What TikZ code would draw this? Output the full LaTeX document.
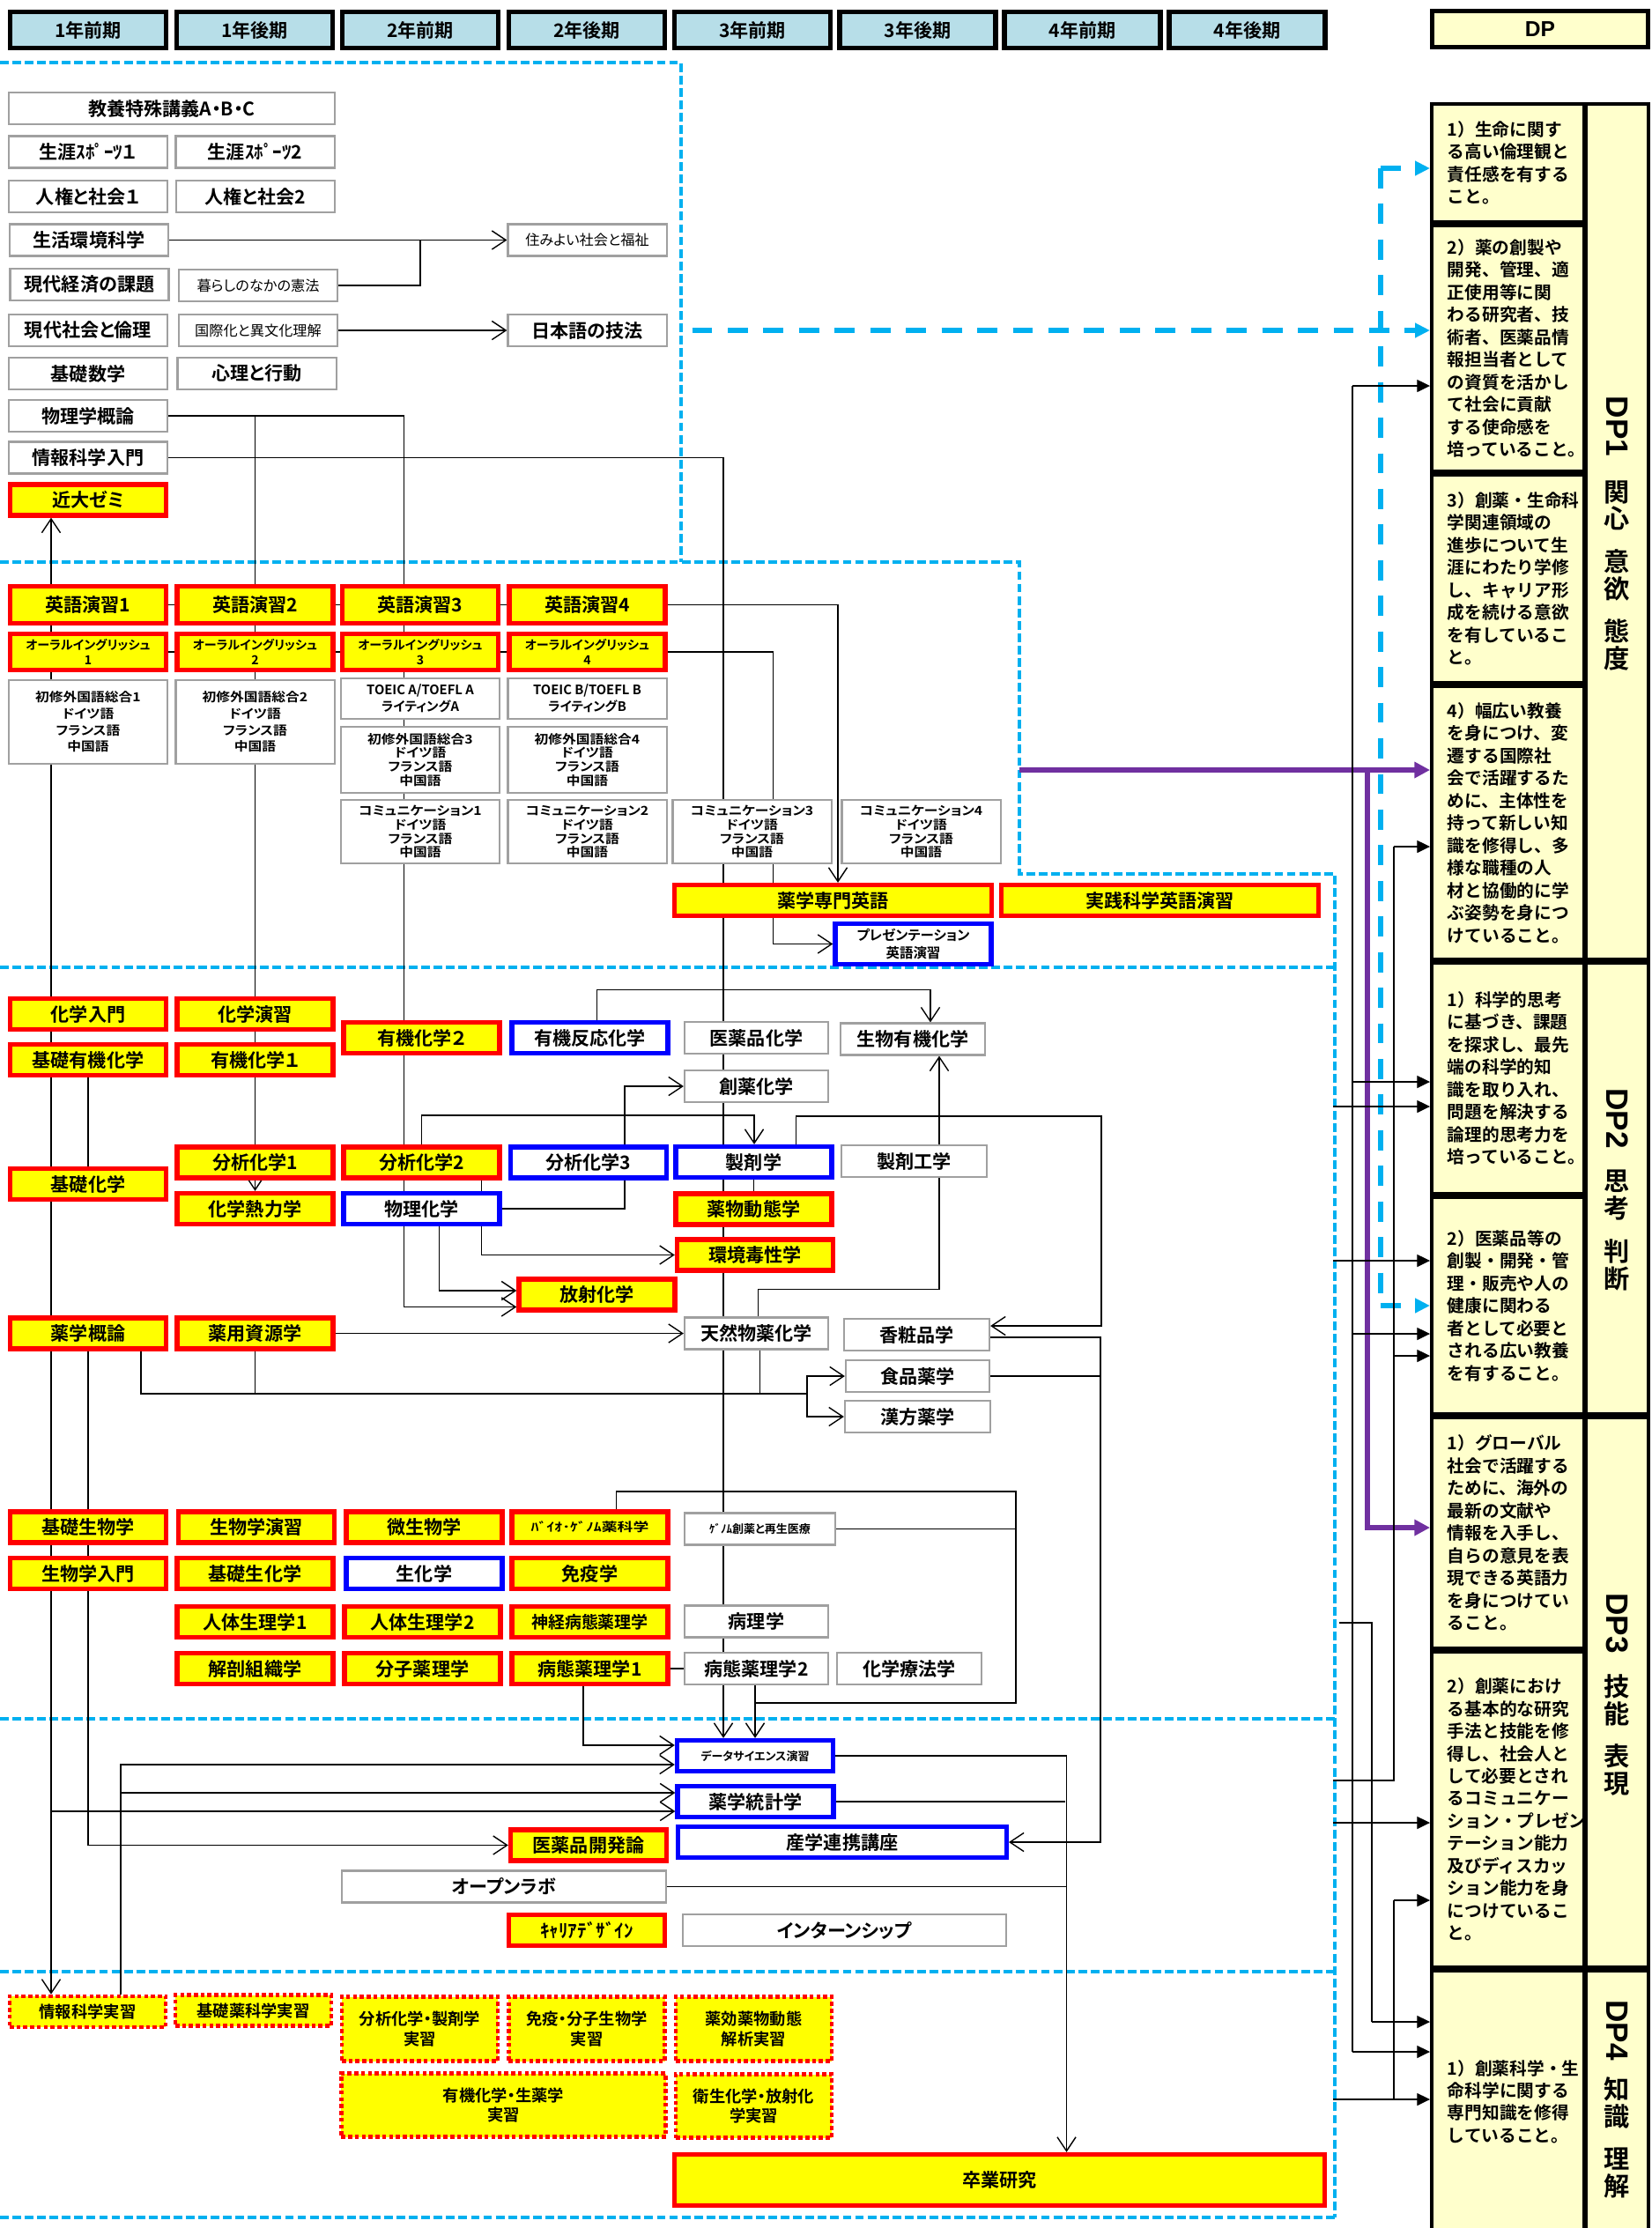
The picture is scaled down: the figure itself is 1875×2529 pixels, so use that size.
\documentclass[tikz,border=0pt]{standalone}
\usepackage{fontspec}
\setmainfont{Noto Sans CJK JP}[BoldFont={Noto Sans CJK JP Bold},RawFeature=+palt]
\newfontfamily\dpshotai{Noto Sans CJK JP}[BoldFont={Noto Sans CJK JP Bold}]
\newfontfamily\oubun{Liberation Sans}
\usepackage{xcolor}
\usepackage{tikz}
\usetikzlibrary{arrows.meta,calc,positioning}
\definecolor{KikanAo}{RGB}{183,222,232}
\definecolor{DPKiiro}{RGB}{255,255,204}
\definecolor{HissuKiiro}{RGB}{255,255,0}
\definecolor{WakuAka}{RGB}{255,0,0}
\definecolor{WakuAo}{RGB}{0,0,255}
\definecolor{WakuHai}{RGB}{160,160,160}
\definecolor{KugiriAo}{RGB}{0,176,240}
\definecolor{Murasaki}{RGB}{112,48,160}
\pgfdeclarelayer{haikei}
\pgfsetlayers{haikei,main}

\begin{document}
\begin{tikzpicture}[x=0.01cm,y=-0.01cm,line width=0.6pt,
  >={Straight Barb[length=4.5pt,width=6pt]},
  hako/.style={draw=WakuHai,line width=0.6pt,fill=white,inner sep=0pt,align=center,minimum width=1.80cm,minimum height=0.36cm,font=\bfseries\fontsize{6}{7}\selectfont},
  hissu/.style={hako,draw=WakuAka,fill=HissuKiiro,line width=1.5pt,minimum width=1.77cm,minimum height=0.35cm},
  aowaku/.style={hissu,draw=WakuAo,fill=white},
  jisshu/.style={hissu,line width=1.3pt,dash pattern=on 1.3pt off 0.9pt,font=\bfseries\fontsize{5.2}{6.4}\selectfont},
  kikan/.style={draw=black,line width=1.5pt,fill=KikanAo,inner sep=0pt,minimum width=1.77cm,minimum height=0.41cm,font=\bfseries\fontsize{6}{7}\selectfont},
  komoji/.style={font=\fontsize{4.6}{5.5}\selectfont},
  chisai/.style={font=\bfseries\fontsize{3.7}{4.5}\selectfont},
  hankaku/.style={font=\bfseries\fontsize{3.9}{4.6}\selectfont\addfontfeature{FakeStretch=1.3}},
  gogaku/.style={font=\bfseries\fontsize{4}{#1}\selectfont\addfontfeature{FakeStretch=1.12}},
  gogaku/.default=5.3,
  oral/.style={font=\bfseries\fontsize{4}{4.9}\selectfont},
  toeic/.style={font=\bfseries\fontsize{4.2}{5.3}\selectfont},
  dpwaku/.style={draw=black,line width=1.1pt,fill=DPKiiro,inner xsep=0.18cm,inner ysep=0pt,text width=1.37cm,align=left,font=\dpshotai\bfseries\fontsize{5.6}{7.25}\selectfont},
  dpmei/.style={draw=black,line width=1.1pt,fill=DPKiiro,minimum width=0.71cm,inner sep=0pt},
  dpmoji/.style={align=center,inner sep=0pt,font=\dpshotai\bfseries\fontsize{8.3}{8.8}\selectfont},
  dpban/.style={rotate=-90,inner sep=0pt,font=\oubun\bfseries\fontsize{10}{12}\selectfont},
  dpya/.style={-{Triangle[length=4.2pt,width=4pt]}},
  aosen/.style={draw=KugiriAo,line width=1.8pt,dash pattern=on 6.5pt off 5pt,-{Triangle[length=4.8pt,width=4.5pt]}},
  murasakisen/.style={draw=Murasaki,line width=1.6pt,-{Triangle[length=5pt,width=5pt]}},
  kugiri/.style={draw=KugiriAo,line width=1pt,dash pattern=on 2.8pt off 1.2pt}]
  \useasboundingbox (0,0) rectangle (1875,2529);

  \node[kikan] (k1) at (100,34) {1年前期};
  \node[kikan] (k2) at (289,34) {1年後期};
  \node[kikan] (k3) at (477,34) {2年前期};
  \node[kikan] (k4) at (666,34) {2年後期};
  \node[kikan] (k5) at (854,34) {3年前期};
  \node[kikan] (k6) at (1041.5,34) {3年後期};
  \node[kikan] (k7) at (1228.5,34) {4年前期};
  \node[kikan] (k8) at (1415.5,34) {4年後期};
  \node[kikan,fill=DPKiiro,minimum width=2.45cm,line width=1.4pt,font=\oubun\bfseries\fontsize{7}{8}\selectfont] (dp) at (1748,33) {DP};

  \node[hako,minimum width=3.70cm] (kyouyou) at (195,123) {教養特殊講義A・B・C};
  \node[hako] (sport1) at (100,172.5) {生涯ｽﾎﾟｰﾂ１};
  \node[hako] (sport2) at (289.5,172.5) {生涯ｽﾎﾟｰﾂ2};
  \node[hako] (jinken1) at (100,223) {人権と社会１};
  \node[hako] (jinken2) at (290,223) {人権と社会2};
  \node[hako] (seikatsu) at (101,272.5) {生活環境科学};
  \node[hako,komoji] (sumiyoi) at (666.5,272.5) {住みよい社会と福祉};
  \node[hako] (keizai) at (101.5,323) {現代経済の課題};
  \node[hako,komoji] (kurashi) at (293,324) {暮らしのなかの憲法};
  \node[hako] (rinri) at (100,375) {現代社会と倫理};
  \node[hako,komoji] (kokusai) at (293,375) {国際化と異文化理解};
  \node[hako] (nihongo) at (666.5,375) {日本語の技法};
  \node[hako] (suugaku) at (100,424) {基礎数学};
  \node[hako] (shinri) at (291.5,424) {心理と行動};
  \node[hako] (butsuri) at (100,472) {物理学概論};
  \node[hako] (jouhou) at (100,519.5) {情報科学入門};
  \node[hissu] (zemi) at (100,567.5) {近大ゼミ};

  \node[hissu,minimum height=0.415cm] (eigo1) at (100,686.5) {英語演習1};
  \node[hissu,minimum height=0.415cm] (eigo2) at (289.5,686.5) {英語演習2};
  \node[hissu,minimum height=0.415cm] (eigo3) at (477,686.5) {英語演習3};
  \node[hissu,minimum height=0.415cm] (eigo4) at (666.5,686.5) {英語演習4};
  \node[hissu,oral,minimum height=0.405cm] (oral1) at (100,740) {オーラルイングリッシュ\\1};
  \node[hissu,oral,minimum height=0.405cm] (oral2) at (289.5,740) {オーラルイングリッシュ\\2};
  \node[hissu,oral,minimum height=0.405cm] (oral3) at (477,740) {オーラルイングリッシュ\\3};
  \node[hissu,oral,minimum height=0.405cm] (oral4) at (666.5,740) {オーラルイングリッシュ\\4};
  \node[hako,gogaku,minimum height=0.95cm] (shoshu1) at (100,819.5) {初修外国語総合1\\ドイツ語\\フランス語\\中国語};
  \node[hako,gogaku,minimum height=0.95cm] (shoshu2) at (289.5,819.5) {初修外国語総合2\\ドイツ語\\フランス語\\中国語};
  \node[hako,toeic,minimum height=0.46cm] (toeicA) at (477,793) {TOEIC A/TOEFL A\\ライティングA};
  \node[hako,toeic,minimum height=0.46cm] (toeicB) at (666.5,793) {TOEIC B/TOEFL B\\ライティングB};
  \node[hako,gogaku=4.5,minimum height=0.75cm] (shoshu3) at (477,862.5) {初修外国語総合3\\ドイツ語\\フランス語\\中国語};
  \node[hako,gogaku=4.5,minimum height=0.75cm] (shoshu4) at (666.5,862.5) {初修外国語総合4\\ドイツ語\\フランス語\\中国語};
  \node[hako,gogaku=4.5,minimum height=0.72cm] (komyu1) at (477,944) {コミュニケーション1\\ドイツ語\\フランス語\\中国語};
  \node[hako,gogaku=4.5,minimum height=0.72cm] (komyu2) at (666.5,944) {コミュニケーション2\\ドイツ語\\フランス語\\中国語};
  \node[hako,gogaku=4.5,minimum height=0.72cm] (komyu3) at (853.5,944) {コミュニケーション3\\ドイツ語\\フランス語\\中国語};
  \node[hako,gogaku=4.5,minimum height=0.72cm] (komyu4) at (1045.5,944) {コミュニケーション4\\ドイツ語\\フランス語\\中国語};
  \node[hissu,minimum width=3.595cm] (senmon) at (945.5,1022) {薬学専門英語};
  \node[hissu,minimum width=3.595cm] (jissen) at (1316.5,1022) {実践科学英語演習};
  \node[aowaku,font=\bfseries\fontsize{4.4}{5.7}\selectfont,minimum height=0.455cm] (presen) at (1036.5,1071.5) {プレゼンテーション\\英語演習};

  \node[hissu] (kagakunyumon) at (100,1151) {化学入門};
  \node[hissu] (kagakuenshu) at (289.5,1151) {化学演習};
  \node[hissu] (kisoyuki) at (100,1203) {基礎有機化学};
  \node[hissu] (yuki1) at (289.5,1203) {有機化学１};
  \node[hissu] (yuki2) at (478.5,1178) {有機化学２};
  \node[aowaku] (hannou) at (669.5,1178) {有機反応化学};
  \node[hako,minimum width=1.63cm] (iyakuhin) at (858.5,1178) {医薬品化学};
  \node[hako,minimum width=1.64cm] (seibutsuyuki) at (1036,1179.5) {生物有機化学};
  \node[hako,minimum width=1.63cm] (souyaku) at (858.5,1233) {創薬化学};
  \node[hissu] (bunseki1) at (289.5,1319.5) {分析化学1};
  \node[hissu] (bunseki2) at (478.5,1319.5) {分析化学2};
  \node[aowaku] (bunseki3) at (668,1319.5) {分析化学3};
  \node[aowaku] (seizai) at (855.5,1319) {製剤学};
  \node[hako,minimum width=1.65cm] (seizaikou) at (1037.5,1318) {製剤工学};
  \node[hissu] (kisokagaku) at (100,1344) {基礎化学};
  \node[hissu] (netsu) at (289.5,1372) {化学熱力学};
  \node[aowaku] (butsurikagaku) at (478.5,1372) {物理化学};
  \node[hissu] (doutai) at (855.5,1372.5) {薬物動態学};
  \node[hissu] (kankyou) at (857,1424.5) {環境毒性学};
  \node[hissu] (housha) at (677.5,1469.5) {放射化学};
  \node[hissu] (gairon) at (100,1513.5) {薬学概論};
  \node[hissu] (shigen) at (289.5,1513.5) {薬用資源学};
  \node[hako,minimum width=1.63cm] (tennen) at (858.5,1513.5) {天然物薬化学};
  \node[hako,minimum width=1.65cm] (koushou) at (1040.5,1515) {香粧品学};
  \node[hako,minimum width=1.63cm] (shokuhin) at (1041.5,1562) {食品薬学};
  \node[hako,minimum width=1.65cm] (kanpou) at (1041.5,1608) {漢方薬学};
  \node[hissu] (kisoseibutsu) at (100,1733.5) {基礎生物学};
  \node[hissu] (seibutsuenshu) at (291,1733.5) {生物学演習};
  \node[hissu] (biseibutsu) at (481.5,1733.5) {微生物学};
  \node[hissu,hankaku] (bio) at (669.5,1733.5) {ﾊﾞｲｵ･ｹﾞﾉﾑ薬科学};
  \node[hako,chisai,minimum width=1.71cm] (genome) at (862.5,1735.5) {ｹﾞﾉﾑ創薬と再生医療};
  \node[hissu] (nyumon) at (100,1786) {生物学入門};
  \node[hissu] (kisoseika) at (289.5,1786) {基礎生化学};
  \node[aowaku] (seika) at (481.5,1786) {生化学};
  \node[hissu] (meneki) at (669.5,1786) {免疫学};
  \node[hissu] (jintai1) at (289.5,1841) {人体生理学1};
  \node[hissu] (jintai2) at (479.5,1841) {人体生理学2};
  \node[hissu,font=\bfseries\fontsize{5.4}{6.5}\selectfont] (shinkei) at (669.5,1841) {神経病態薬理学};
  \node[hako,minimum width=1.63cm] (byouri) at (858.5,1840.5) {病理学};
  \node[hissu] (kaibou) at (289.5,1894) {解剖組織学};
  \node[hissu] (bunshi) at (479.5,1894) {分子薬理学};
  \node[hissu] (byoutai1) at (669.5,1894) {病態薬理学1};
  \node[hako,minimum width=1.63cm] (byoutai2) at (858.5,1894) {病態薬理学2};
  \node[hako,minimum width=1.64cm] (kagakuryouhou) at (1032,1894) {化学療法学};

  \node[aowaku,chisai] (datasci) at (857,1993) {データサイエンス演習};
  \node[aowaku] (toukei) at (857.5,2045) {薬学統計学};
  \node[aowaku,minimum width=3.725cm] (sangaku) at (956,2091) {産学連携講座};
  \node[hissu] (kaihatsu) at (668,2094.5) {医薬品開発論};
  \node[hako,minimum width=3.68cm] (openlab) at (572,2141.5) {オープンラボ};
  \node[hissu] (career) at (666,2191) {ｷｬﾘｱﾃﾞｻﾞｲﾝ};
  \node[hako,minimum width=3.67cm] (intern) at (958.5,2191) {インターンシップ};

  \node[jisshu] (jouhoujisshu) at (99.5,2283.5) {情報科学実習};
  \node[jisshu] (kisojisshu) at (287.5,2282) {基礎薬科学実習};
  \node[jisshu,minimum height=0.73cm] (bunsekijisshu) at (476.5,2303) {分析化学・製剤学\\実習};
  \node[jisshu,minimum height=0.73cm] (menekijisshu) at (666,2303) {免疫・分子生物学\\実習};
  \node[jisshu,minimum height=0.73cm] (yakkoujisshu) at (855.5,2303) {薬効薬物動態\\解析実習};
  \node[jisshu,minimum width=3.68cm,minimum height=0.72cm] (yukijisshu) at (571.5,2389.5) {有機化学・生薬学\\実習};
  \node[jisshu,minimum height=0.72cm] (eiseijisshu) at (855.5,2390.5) {衛生化学・放射化\\学実習};
  \node[hissu,minimum width=7.38cm,minimum height=0.58cm] (sotsuken) at (1134.5,2474.5) {卒業研究};

  \node[dpwaku,minimum height=1.34cm] (dp11) at (1711.5,185) {1）生命に関す\\る高い倫理観と\\責任感を有する\\こと。};
  \node[dpwaku,minimum height=2.79cm] (dp12) at (1711.5,395.5) {2）薬の創製や\\開発、管理、適\\正使用等に関\\わる研究者、技\\術者、医薬品情\\報担当者として\\の資質を活かし\\て社会に貢献\\する使命感を\\培っていること。};
  \node[dpwaku,minimum height=2.36cm] (dp13) at (1711.5,657) {3）創薬・生命科\\学関連領域の\\進歩について生\\涯にわたり学修\\し、キャリア形\\成を続ける意欲\\を有しているこ\\と。};
  \node[dpwaku,minimum height=3.10cm] (dp14) at (1711.5,934) {4）幅広い教養\\を身につけ、変\\遷する国際社\\会で活躍するた\\めに、主体性を\\持って新しい知\\識を修得し、多\\様な職種の人\\材と協働的に学\\ぶ姿勢を身につ\\けていること。};
  \node[dpwaku,minimum height=2.62cm] (dp21) at (1711.5,1224) {1）科学的思考\\に基づき、課題\\を探求し、最先\\端の科学的知\\識を取り入れ、\\問題を解決する\\論理的思考力を\\培っていること。};
  \node[dpwaku,minimum height=2.46cm] (dp22) at (1711.5,1482) {2）医薬品等の\\創製・開発・管\\理・販売や人の\\健康に関わる\\者として必要と\\される広い教養\\を有すること。};
  \node[dpwaku,minimum height=2.62cm] (dp31) at (1711.5,1740) {1）グローバル\\社会で活躍する\\ために、海外の\\最新の文献や\\情報を入手し、\\自らの意見を表\\現できる英語力\\を身につけてい\\ること。};
  \node[dpwaku,minimum height=3.58cm] (dp32) at (1711.5,2054) {2）創薬におけ\\る基本的な研究\\手法と技能を修\\得し、社会人と\\して必要とされ\\るコミュニケー\\ション・プレゼン\\テーション能力\\及びディスカッ\\ション能力を身\\につけているこ\\と。};
  \node[dpwaku,minimum height=2.97cm] (dp41) at (1711.5,2385.5) {1）創薬科学・生\\命科学に関する\\専門知識を修得\\していること。};

  \node[dpmei,minimum height=9.71cm] (dpl1) at (1835.5,603.5) {};
  \node[dpmei,minimum height=5.12cm] (dpl2) at (1835.5,1349) {};
  \node[dpmei,minimum height=6.24cm] (dpl3) at (1835.5,1921) {};
  \node[dpmei,minimum height=2.97cm] (dpl4) at (1835.5,2385.5) {};
  \node[dpban] (dp1ban) at (1835.5,484) {DP1};
  \node[dpmoji] (dp1moji) at (1835.5,653.5) {関\\心\\[5pt]意\\欲\\[5pt]態\\度};
  \node[dpban] (dp2ban) at (1835.5,1269.5) {DP2};
  \node[dpmoji] (dp2moji) at (1835.5,1396.5) {思\\考\\[5pt]判\\断};
  \node[dpban] (dp3ban) at (1835.5,1842.5) {DP3};
  \node[dpmoji] (dp3moji) at (1835.5,1969.5) {技\\能\\[5pt]表\\現};
  \node[dpban] (dp4ban) at (1835.5,2304.5) {DP4};
  \node[dpmoji] (dp4moji) at (1835.5,2426.5) {知\\識\\[5pt]理\\解};

  \begin{pgfonlayer}{haikei}
  \fill[white] (0,0) rectangle (1875,2529);
  \draw[kugiri] (0,71) -- (773,71) -- (773,638);
  \draw[kugiri] (0,638) -- (1157,638) -- (1157,992) -- (1515,992) -- (1515,2517);
  \draw[kugiri] (0,1098) -- (1515,1098);
  \draw[kugiri] (0,1951) -- (1515,1951);
  \draw[kugiri] (0,2238) -- (1515,2238);
  \draw[kugiri] (0,2517) -- (1515,2517);

  \coordinate (kurashiGoryu) at (477,272.5);
  \draw[->] (seikatsu) -- (sumiyoi);
  \draw (kurashi.east) -| (kurashiGoryu);
  \draw[->] (kokusai) -- (nihongo);
  \draw[->] (butsuri.east) -| (netsu.north);
  \draw[->] (butsuri.east) -| ($(housha.west)+(-128,14)$) -- ($(housha.west)+(0,14)$);
  \draw[->] (jouhou.east) -| ($(datasci.north)+(-36,0)$);
  \draw[<->] ($(zemi.south)+(-42,0)$) -- ($(jouhoujisshu.north)+(-41.5,0)$);

  \draw[->] (eigo1.east) -| ($(senmon.north)+(5.5,0)$);
  \draw[->] (oral1.east) -| ($(presen.west)+(-68,0)$) -- (presen.west);

  \draw[->] ($(hannou.north)+(8,0)$) |- ($(seibutsuyuki.north)+(20,-37)$) -- ($(seibutsuyuki.north)+(20,0)$);
  \draw[->] ($(tennen.north)+(2,0)$) |- ($(seibutsuyuki.south)+(30,265)$) -- ($(seibutsuyuki.south)+(30,0)$);
  \draw[->] (butsurikagaku.east) -| ($(souyaku.west)+(-67,0)$) -- (souyaku.west);
  \draw[->] (bunseki2.north) |- ($(seizai.north)+(0.5,-33)$) -- ($(seizai.north)+(0.5,0)$);
  \draw[->] ($(seizai.north)+(48,0)$) |- ($(koushou.east)+(126,-248)$) |- ($(koushou.east)+(0,-10)$);
  \draw[->] ($(koushou.east)+(0,3)$) -| ($(sangaku.east)+(104,0)$) -- (sangaku.east);
  \draw (shokuhin.east) -- ++(125,0);
  \draw[->] (shigen) -- (tennen);
  \draw[->] ($(gairon.south)+(60,0)$) |- ($(shokuhin.west)+(-43,20)$) |- (shokuhin.west);
  \draw[->] ($(shokuhin.west)+(-43,20)$) |- (kanpou.west);
  \draw (shigen.south) -- ++(0,49);
  \draw ($(tennen.south)+(4,0)$) -- ++(0,49);
  \draw[->] ($(bunseki2.south)+(68,0)$) |- (kankyou.west);
  \draw[->] ($(butsurikagaku.south)+(20,0)$) |- ($(housha.west)+(0,-4.5)$);
  \draw (kisoyuki) -- (kisokagaku);
  \draw (seizai) -- (doutai);
  \draw[->] (gairon.south) |- (kaihatsu.west);

  \coordinate (genomeKado) at (1153,1693);
  \coordinate (byoutaiGoryu) at (857,1933);
  \draw ($(bio.north)+(30,0)$) |- (genomeKado) |- (byoutaiGoryu);
  \draw (genome.east) -- (genome.east -| genomeKado);
  \draw (byoutai1) -- (byoutai2);
  \draw[->] (byoutai2.south -| datasci.north) -- (datasci.north);
  \draw[->] ($(byoutai1.south)+(-7.5,0)$) |- ($(datasci.west)+(0,-12)$);

  \coordinate (jouhouEda) at (137,2035);
  \coordinate (kanbuEda) at (58,2056);
  \draw[->] ($(jouhoujisshu.north)+(37.5,0)$) |- ($(datasci.west)+(0,10)$);
  \draw[->] (jouhouEda) -- ($(toukei.west)+(0,-10)$);
  \draw[->] (kanbuEda) -- ($(toukei.west)+(0,11)$);
  \draw[->] (datasci.east) -| ($(sotsuken.north)+(76,0)$);
  \draw (toukei.east) -- ++(260,0);
  \draw (openlab.east) -- ++(453,0);

  \coordinate (aoUe) at (1567,191);
  \coordinate (aoShita) at (1567,1482);
  \draw[aosen] ($(nihongo.east)+(28,0)$) -- (nihongo.east -| dp12.west);
  \draw[aosen,-] (aoUe) -- (aoShita);
  \draw[aosen] (aoUe) -- (aoUe -| dp11.west);
  \draw[aosen] (aoShita) -- (aoShita -| dp22.west);

  \coordinate (mMoto) at (1157,874);
  \coordinate (mEda) at (1552,874);
  \coordinate (mShita) at (1552,1734);
  \draw[murasakisen] (mMoto) -- (mMoto -| dp14.west);
  \draw[murasakisen] (mEda) -- (mShita) -- (mShita -| dp31.west);

  \coordinate (kuroA1) at (1535,438);
  \coordinate (kuroA2) at (1535,1228);
  \coordinate (kuroA3) at (1535,1514);
  \coordinate (kuroA4) at (1535,2329);
  \draw (kuroA1) -- (kuroA4);
  \draw[dpya] (kuroA1) -- (kuroA1 -| dp12.west);
  \draw[dpya] (kuroA2) -- (kuroA2 -| dp21.west);
  \draw[dpya] (kuroA3) -- (kuroA3 -| dp22.west);
  \draw[dpya] (kuroA4) -- (kuroA4 -| dp41.west);

  \coordinate (kuroB0) at (1513,2021);
  \coordinate (kuroB1) at (1582,961);
  \coordinate (kuroB2) at (1582,1539);
  \coordinate (kuroB3) at (1582,2021);
  \draw (kuroB0) -- (kuroB3) -- (kuroB1);
  \draw[dpya] (kuroB1) -- (kuroB1 -| dp14.west);
  \draw[dpya] (kuroB2) -- (kuroB2 -| dp22.west);

  \coordinate (kuroC0) at (1513,2383);
  \coordinate (kuroC1) at (1582,2157);
  \coordinate (kuroC2) at (1582,2383);
  \draw[dpya] (kuroC0) -- (kuroC0 -| dp41.west);
  \draw (kuroC2) -- (kuroC1);
  \draw[dpya] (kuroC1) -- (kuroC1 -| dp32.west);

  \coordinate (kuroD0) at (1520,1842);
  \coordinate (kuroD1) at (1557,1842);
  \coordinate (kuroD2) at (1557,2295);
  \draw (kuroD0) -- (kuroD1) -- (kuroD2);
  \draw[dpya] (kuroD2) -- (kuroD2 -| dp41.west);

  \coordinate (kuroE) at (1513,1256);
  \coordinate (kuroF) at (1513,1431);
  \coordinate (kuroG) at (1513,2069);
  \draw[dpya] (kuroE) -- (kuroE -| dp21.west);
  \draw[dpya] (kuroF) -- (kuroF -| dp22.west);
  \draw[dpya] (kuroG) -- (kuroG -| dp32.west);
  \end{pgfonlayer}
\end{tikzpicture}
\end{document}
